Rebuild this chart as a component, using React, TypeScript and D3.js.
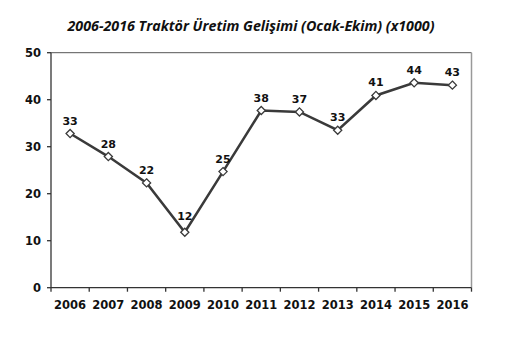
import React from "react";
import * as d3 from "d3";

const years = ["2006", "2007", "2008", "2009", "2010", "2011", "2012", "2013", "2014", "2015", "2016"];
const production = [32.8, 27.9, 22.3, 11.8, 24.7, 37.7, 37.4, 33.5, 40.9, 43.6, 43.1];
const labels = ["33", "28", "22", "12", "25", "38", "37", "33", "41", "44", "43"];
const yTicks = [0, 10, 20, 30, 40, 50];

const W = 517, H = 352;
const left = 51, right = 471.5, top = 52.7, bottom = 287.7;

export default function App() {
  const x = d3.scaleBand().domain(years).range([left, right]);
  const y = d3.scaleLinear().domain([0, 50]).range([bottom, top]);
  const cx = (d: string) => (x(d) as number) + x.bandwidth() / 2;

  const line = d3.line<number>()
    .x((_, i) => cx(years[i]))
    .y((d) => y(d));

  const diamond = d3.symbol().type(d3.symbolDiamond2).size(42)();
  const edges = years.map((d) => x(d) as number).concat([right]);
  const font = "'DejaVu Sans', Verdana, sans-serif";

  return (
    <svg width={W} height={H} style={{ position: "absolute", left: 0, top: 0, background: "#fff" }}>
      <text x={251} y={31} textAnchor="middle" fontFamily="'Open Sans', sans-serif" fontStyle="italic"
        fontWeight="bold" fontSize={14} textLength={367} lengthAdjust="spacingAndGlyphs" fill="#111">
        2006-2016 Traktör Üretim Gelişimi (Ocak-Ekim) (x1000)
      </text>

      <line x1={left} x2={right} y1={top} y2={top} stroke="#555" strokeWidth={1} />
      <line x1={right} x2={right} y1={top} y2={bottom} stroke="#999" strokeWidth={1.5} />

      <line x1={left} x2={left} y1={top} y2={bottom} stroke="#333" strokeWidth={1.3} />
      {yTicks.map((t) => (
        <g key={t}>
          <line x1={left - 4} x2={left} y1={y(t)} y2={y(t)} stroke="#333" strokeWidth={1.3} />
          <text x={left - 10} y={y(t)} dy="0.36em" textAnchor="end" fontFamily={font}
            fontWeight="bold" fontSize={11.5} fill="#111">{t}</text>
        </g>
      ))}

      <line x1={left} x2={right} y1={bottom} y2={bottom} stroke="#333" strokeWidth={1.3} />
      {edges.map((e, i) => (
        <line key={i} x1={e} x2={e} y1={bottom} y2={bottom + 4} stroke="#333" strokeWidth={1.3} />
      ))}
      {years.map((d) => (
        <text key={d} x={cx(d)} y={bottom + 21} textAnchor="middle" fontFamily={font}
          fontWeight="bold" fontSize={11.5} fill="#111">{d}</text>
      ))}

      <path d={line(production) as string} fill="none" stroke="#3a3a3a" strokeWidth={2.5} />
      {production.map((v, i) => (
        <path key={i} d={diamond as string} transform={`translate(${cx(years[i])},${y(v)})`}
          fill="#fff" stroke="#3a3a3a" strokeWidth={1.3} />
      ))}
      {production.map((v, i) => (
        <text key={i} x={cx(years[i])} y={y(v) - 9} dy={i === 3 ? -3 : 0} textAnchor="middle" fontFamily={font}
          fontWeight="bold" fontSize={11} fill="#111">{labels[i]}</text>
      ))}
    </svg>
  );
}
